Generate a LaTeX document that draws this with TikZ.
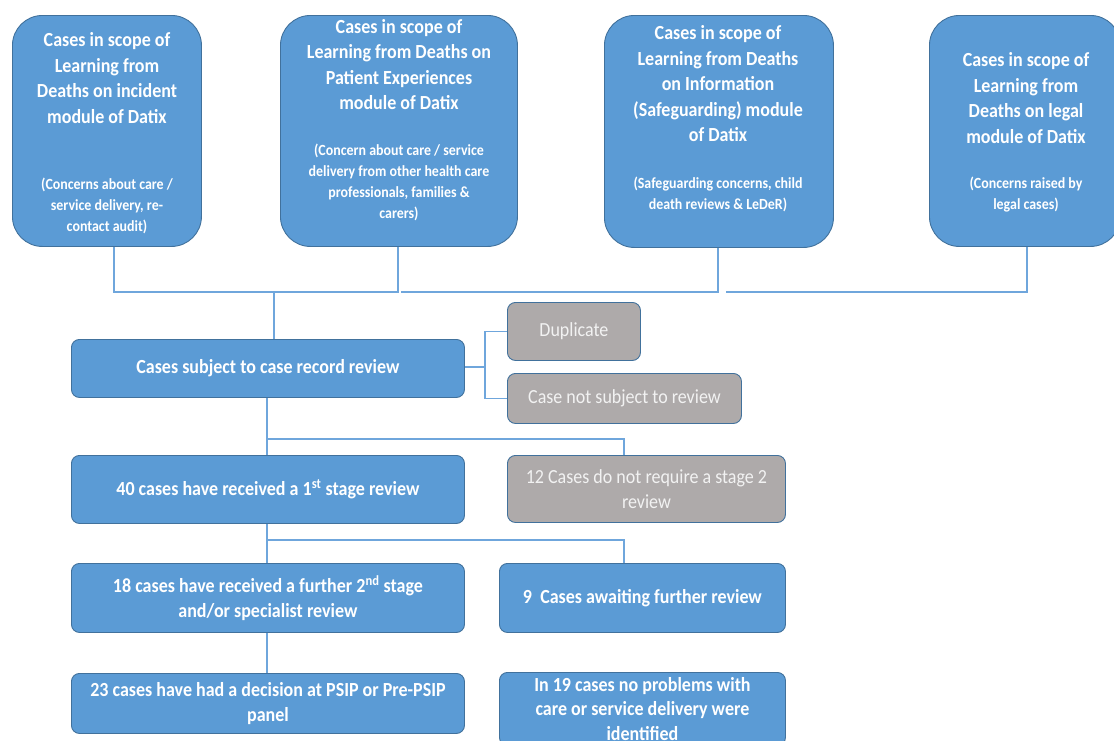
\documentclass[tikz,border=0pt]{standalone}
\usepackage{fontspec}
\setmainfont{Carlito}[FakeStretch=0.9]
\definecolor{boxblue}{HTML}{5B9BD5}
\definecolor{boxedge}{HTML}{41719C}
\definecolor{boxgrey}{HTML}{AEAAAA}
\definecolor{greytext}{HTML}{F2F2F2}
\definecolor{connblue}{HTML}{6FA6DC}
\begin{document}
\begin{tikzpicture}[x=1pt,y=-1pt,
  topbox/.style={draw=boxedge, line width=0.9pt, fill=boxblue, rounded corners=30pt, inner sep=0pt, anchor=north west},
  bluebox/.style={draw=boxedge, line width=0.9pt, fill=boxblue, rounded corners=8pt, inner sep=0pt, anchor=north west,
    text=white, align=center, font=\fontsize{20pt}{24.5pt}\selectfont\bfseries},
  greybox/.style={draw=boxedge, line width=0.9pt, fill=boxgrey, rounded corners=8pt, inner sep=0pt, anchor=north west,
    text=greytext, align=center, font=\fontsize{20pt}{24.5pt}\selectfont},
  maintxt/.style={text=white, align=center, inner sep=0pt, font=\fontsize{20pt}{25.5pt}\selectfont\bfseries},
  subtxt/.style={text=white, align=center, inner sep=0pt, font=\fontsize{15.5pt}{21pt}\selectfont\bfseries},
  conn/.style={draw=connblue, line width=1.2pt}]
\path[use as bounding box] (0,0) rectangle (1114,740);
\clip (0,0) rectangle (1114,740);

% top boxes
\node[topbox, minimum width=189pt, minimum height=231pt] (b1) at (12,15) {};
\node[topbox, minimum width=237pt, minimum height=231pt] (b2) at (280,15) {};
\node[topbox, minimum width=229pt, minimum height=232pt] (b3) at (604,15) {};
\node[topbox, minimum width=191pt, minimum height=231pt] (b4) at (929,15) {};

\node[maintxt] (t1a) at (107,78) {Cases in scope of\\Learning from\\Deaths on incident\\module of Datix};
\node[subtxt] (t1b) at (107,206) {(Concerns about care /\\service delivery, re-\\contact audit)};
\node[maintxt] (t2a) at (399,64.5) {Cases in scope of\\Learning from Deaths on\\Patient Experiences\\module of Datix};
\node[subtxt] (t2b) at (399,182.5) {(Concern about care / service\\delivery from other health care\\professionals, families \&\\carers)};
\node[maintxt] (t3a) at (718,84) {Cases in scope of\\Learning from Deaths\\on Information\\(Safeguarding) module\\of Datix};
\node[subtxt] (t3b) at (718,194.5) {(Safeguarding concerns, child\\death reviews \& LeDeR)};
\node[maintxt] (t4a) at (1026,98) {Cases in scope of\\Learning from\\Deaths on legal\\module of Datix};
\node[subtxt] (t4b) at (1026,195) {(Concerns raised by\\legal cases)};

% lower boxes
\node[bluebox, minimum width=393pt, minimum height=58pt] (m1) at (71,339) {Cases subject to case record review};
\node[greybox, minimum width=133pt, minimum height=58pt] (d1) at (507,302) {Duplicate};
\node[greybox, minimum width=234pt, minimum height=50pt] (d2) at (507,373) {Case not subject to review};
\node[bluebox, minimum width=393pt, minimum height=68pt] (m2) at (71,455) {40 cases have received a 1\textsuperscript{st} stage review};
\node[greybox, minimum width=278pt, minimum height=67pt] (g3) at (507,455) {12 Cases do not require a stage 2\\review};
\node[bluebox, minimum width=393pt, minimum height=69pt] (m3) at (71,563) {18 cases have received a further 2\textsuperscript{nd} stage\\and/or specialist review};
\node[bluebox, minimum width=286pt, minimum height=69pt] (r3) at (499,563) {9~~Cases awaiting further review};
\node[bluebox, minimum width=393pt, minimum height=60pt] (m4) at (71,673) {23 cases have had a decision at PSIP or Pre-PSIP\\panel};
\node[bluebox, minimum width=286pt, minimum height=73pt] (r4) at (499,672) {In 19 cases no problems with\\care or service delivery were\\identified};

% top connectors
\coordinate (h1) at (114,292);
\coordinate (h2) at (398,292);
\coordinate (h3) at (401,292);
\coordinate (h4) at (718,292);
\coordinate (h5) at (726,292);
\coordinate (h6) at (1027,292);
\coordinate (hj) at (274,292);
\draw[conn] (b1.south -| h1) -- (h1) -- (h2) -- (b2.south -| h2);
\draw[conn] (h3) -- (h4) -- (b3.south -| h4);
\draw[conn] (h5) -- (h6) -- (b4.south -| h6);
\draw[conn] (hj) -- (m1.north -| hj);

% side branch
\coordinate (s1) at (485,367);
\draw[conn] (m1.east |- s1) -- (s1);
\draw[conn] (d1.west) -| (s1) |- (d2.west);

% vertical chain
\coordinate (vx) at (267,439);
\coordinate (bx1) at (624,439);
\coordinate (vy) at (267,540);
\coordinate (bx2) at (624,540);
\draw[conn] (m1.south -| vx) -- (m2.north -| vx);
\draw[conn] (vx) -- (bx1) -- (g3.north -| bx1);
\draw[conn] (m2.south -| vy) -- (m3.north -| vy);
\draw[conn] (vy) -- (bx2) -- (r3.north -| bx2);
\draw[conn] (m3.south -| vy) -- (m4.north -| vy);
\end{tikzpicture}
\end{document}
